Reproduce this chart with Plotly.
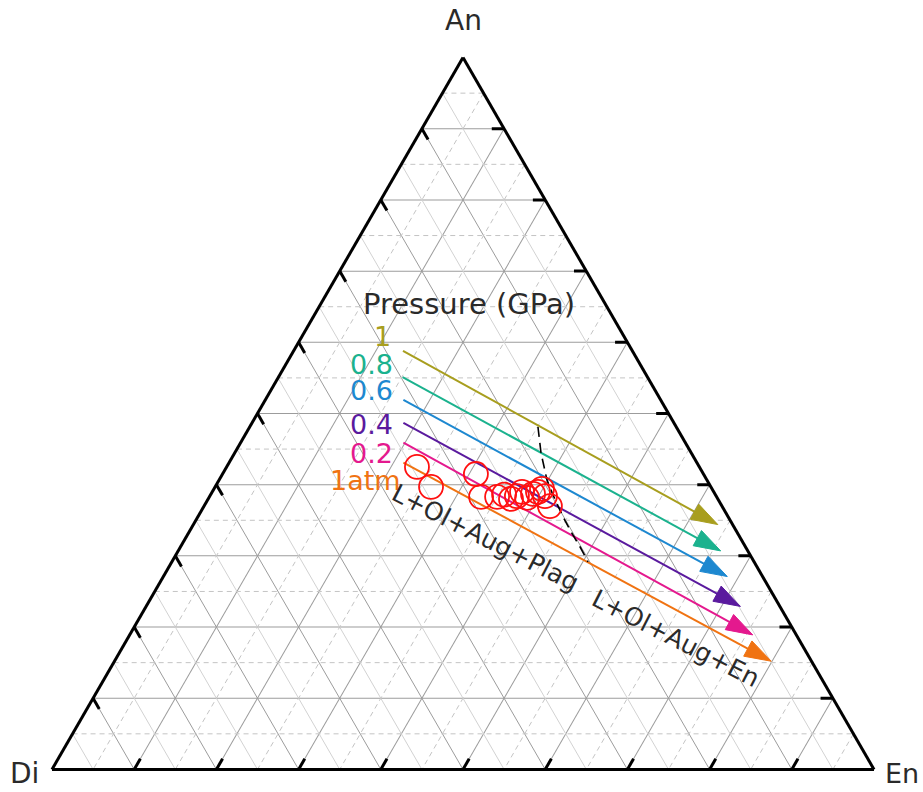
import plotly.graph_objects as go

# ---------------- data (ternary fractions: An top, Di bottom-left, En bottom-right) ----------------
pressure_labels = ["1", "0.8", "0.6", "0.4", "0.2", "1atm"]
pressure_colors = ["#a89e1e", "#1bb28e", "#1d88d0", "#5a1a9e", "#e4198e", "#f07312"]
path_an_start = [0.588, 0.551, 0.519, 0.487, 0.459, 0.431]
path_en_start = [0.133, 0.151, 0.168, 0.184, 0.198, 0.212]
path_an_end = [0.344, 0.307, 0.271, 0.229, 0.189, 0.152]
path_en_end = [0.638, 0.660, 0.686, 0.723, 0.758, 0.799]

sample_an = [0.425, 0.397, 0.415, 0.383, 0.383, 0.386, 0.380, 0.384, 0.390,
             0.3815, 0.387, 0.390, 0.394, 0.384, 0.370]
sample_en = [0.2315, 0.2626, 0.3082, 0.3305, 0.3500, 0.3570, 0.3684, 0.3736, 0.3768,
             0.3872, 0.3917, 0.3962, 0.3991, 0.4077, 0.4207]

boundary_an = [0.481, 0.4446, 0.4067, 0.3857, 0.3548, 0.3338, 0.3128, 0.2917]
boundary_en = [0.3507, 0.3726, 0.3988, 0.4166, 0.4443, 0.4645, 0.4859, 0.5062]

major_ticks = [0.1, 0.2, 0.3, 0.4, 0.5, 0.6, 0.7, 0.8, 0.9]
minor_ticks = [0.05, 0.15, 0.25, 0.35, 0.45, 0.55, 0.65, 0.75, 0.85, 0.95]

vertex_labels = ["An", "Di", "En"]
field_labels = ["L+Ol+Aug+Plag", "L+Ol+Aug+En"]
legend_title = "Pressure (GPa)"

# ---------------- layout constants ----------------
FONT = "DejaVu Sans"
TEXT_COLOR = "#2a2a2a"
TICK_LEN = 0.015
W, H = 923, 792
ML, MR, MT, MB = 52, 49, 55, 20
PW, PH = W - ML - MR, H - MT - MB


def segments_trace(segs, color, width, dash="solid"):
    a, b, c = [], [], []
    for (p, q) in segs:
        a += [p[0], q[0], None]
        b += [p[1], q[1], None]
        c += [p[2], q[2], None]
    return go.Scatterternary(a=a, b=b, c=c, mode="lines",
                             line=dict(color=color, width=width, dash=dash),
                             hoverinfo="skip", showlegend=False, cliponaxis=False)


def paper(sx, sy):
    return (sx - ML) / PW, ((H - MB) - sy) / PH


fig = go.Figure()

# minor grid lines
an_minor = [((v, 1 - v, 0), (v, 0, 1 - v)) for v in minor_ticks]
di_minor = [((1 - v, v, 0), (0, v, 1 - v)) for v in minor_ticks]
en_minor = [((1 - v, 0, v), (0, 1 - v, v)) for v in minor_ticks]
fig.add_trace(segments_trace(an_minor, "#c4c4c4", 1, "5px,4px"))
fig.add_trace(segments_trace(di_minor, "#d2d2d2", 1))
fig.add_trace(segments_trace(en_minor, "#c4c4c4", 1, "5px,4px"))

# tick marks (inside, along grid directions)
ticks = []
for v in major_ticks:
    ticks.append(((v, 1 - v, 0), (v - TICK_LEN, 1 - v, TICK_LEN)))      # left edge
    ticks.append(((0, 1 - v, v), (TICK_LEN, 1 - v - TICK_LEN, v)))      # bottom edge
    ticks.append(((v, 0, 1 - v), (v, TICK_LEN, 1 - v - TICK_LEN)))      # right edge
fig.add_trace(segments_trace(ticks, "black", 3))

# pressure arrows
for i in range(len(pressure_labels)):
    a0, e0 = path_an_start[i], path_en_start[i]
    a1, e1 = path_an_end[i], path_en_end[i]
    fig.add_trace(go.Scatterternary(
        a=[a0, a1], b=[1 - a0 - e0, 1 - a1 - e1], c=[e0, e1],
        mode="lines+markers",
        line=dict(color=pressure_colors[i], width=2),
        marker=dict(symbol=["circle", "arrow"], size=[0, 28], angleref="previous",
                    color=pressure_colors[i], opacity=1,
                    line=dict(width=1, color=pressure_colors[i])),
        hoverinfo="skip", showlegend=False, cliponaxis=False,
    ))

# phase boundary
fig.add_trace(go.Scatterternary(
    a=boundary_an, b=[1 - a - e for a, e in zip(boundary_an, boundary_en)], c=boundary_en,
    mode="lines", line=dict(color="black", width=1.6, dash="10px,6px"),
    hoverinfo="skip", showlegend=False,
))

# samples
fig.add_trace(go.Scatterternary(
    a=sample_an, b=[1 - a - e for a, e in zip(sample_an, sample_en)], c=sample_en,
    mode="markers",
    marker=dict(symbol="circle-open", size=24, color="#ff1010", line=dict(width=1.8)),
    hoverinfo="skip", showlegend=False,
))

axis_style = dict(
    title=dict(text=""), showgrid=True, gridcolor="#9c9c9c", gridwidth=1,
    tickmode="linear", tick0=0, dtick=0.1,
    showline=True, linecolor="black", linewidth=3,
    ticks="", showticklabels=False, layer="above traces",
)

annotations = []


def add_text(text, x, y, size, color=TEXT_COLOR, angle=0):
    px_, py_ = paper(x, y)
    annotations.append(dict(
        text=text, x=px_, y=py_, xref="paper", yref="paper",
        xanchor="center", yanchor="middle", showarrow=False, textangle=angle,
        font=dict(family=FONT, size=size, color=color),
    ))


add_text(vertex_labels[0], 463, 21, 28)
add_text(vertex_labels[1], 24, 773, 28)
add_text(vertex_labels[2], 902, 774, 27)
add_text(legend_title, 469, 304, 29)

label_x = [382, 371, 371, 371, 371, 365]
label_y = [336, 364.5, 390, 424, 453, 480]
for i, lab in enumerate(pressure_labels):
    add_text(lab, label_x[i], label_y[i], 27, pressure_colors[i])

add_text(field_labels[0], 485, 537, 25, angle=27)
add_text(field_labels[1], 676, 638, 25, angle=27)

fig.update_layout(
    width=W, height=H,
    margin=dict(l=ML, r=MR, t=MT, b=MB, pad=0),
    paper_bgcolor="white", plot_bgcolor="white",
    showlegend=False,
    ternary=dict(sum=1, bgcolor="white",
                 aaxis=axis_style, baxis=axis_style, caxis=axis_style),
    annotations=annotations,
)

fig.write_html(
    "out.html",
    config={"displayModeBar": False},
    post_script="document.body.style.margin='0';document.body.style.overflow='hidden';",
)
